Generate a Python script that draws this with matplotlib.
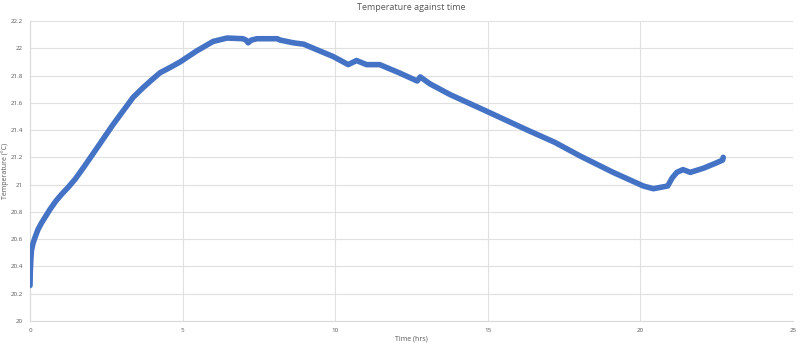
import numpy as np
import matplotlib.pyplot as plt

# readings taken off the chart (time in hours, temperature in degC)
time_hrs = [0.0, 0.01, 0.03, 0.05, 0.1, 0.16, 0.26, 0.38, 0.52, 0.66, 0.85, 1.04,
            1.25, 1.48, 1.8, 2.2, 2.72, 3.05, 3.38, 3.7, 4.0, 4.26, 4.6, 4.92,
            5.46, 6.0, 6.46, 6.98, 7.08, 7.15, 7.25, 7.44, 8.1, 8.2, 8.63, 8.97,
            9.5, 9.93, 10.43, 10.7, 11.03, 11.46, 12.1, 12.69, 12.79, 13.1, 13.77,
            14.85, 16.3, 17.2, 18.03, 19.11, 20.1, 20.43, 20.9, 21.05, 21.2, 21.4,
            21.64, 22.07, 22.5, 22.7, 22.72]
temp_c = [20.26, 20.36, 20.46, 20.52, 20.57, 20.61, 20.67, 20.72, 20.77, 20.82,
          20.88, 20.93, 20.98, 21.04, 21.14, 21.27, 21.44, 21.54, 21.64, 21.71,
          21.77, 21.82, 21.86, 21.90, 21.98, 22.05, 22.075, 22.07, 22.06, 22.04,
          22.06, 22.07, 22.07, 22.06, 22.04, 22.03, 21.98, 21.94, 21.88, 21.91,
          21.88, 21.88, 21.82, 21.76, 21.79, 21.74, 21.66, 21.55, 21.40, 21.31,
          21.21, 21.09, 20.99, 20.97, 20.99, 21.05, 21.09, 21.11, 21.09, 21.12,
          21.16, 21.18, 21.2]

x_ticks = [0, 5, 10, 15, 20, 25]
y_ticks = [20, 20.2, 20.4, 20.6, 20.8, 21, 21.2, 21.4, 21.6, 21.8, 22, 22.2]
y_labels = ['20', '20.2', '20.4', '20.6', '20.8', '21', '21.2', '21.4', '21.6',
            '21.8', '22', '22.2']

plt.rcParams['font.family'] = ['Open Sans', 'DejaVu Sans']
txt = '#595959'

fig = plt.figure(figsize=(8, 3.47), dpi=100)
ax = fig.add_axes([0.0375, 0.075, 0.9535, 0.8645])

ax.plot(time_hrs, temp_c, color='#4472C4', lw=4, solid_capstyle='round',
        solid_joinstyle='round', zorder=3)

ax.set_xlim(0, 25)
ax.set_ylim(20, 22.2)
ax.set_xticks(x_ticks)
ax.set_yticks(y_ticks)
ax.set_yticklabels(y_labels)
ax.tick_params(length=0, labelsize=4.5, colors=txt, pad=5)
ax.grid(True, color='#e0e0e0', lw=0.8)
ax.set_axisbelow(True)
for s in ['top', 'right']:
    ax.spines[s].set_visible(False)
for s in ['left', 'bottom']:
    ax.spines[s].set_color('#d9d9d9')

ax.set_title('Temperature against time', fontsize=6.5, color=txt, pad=8)
ax.set_xlabel('Time (hrs)', fontsize=5, color=txt, labelpad=2)
ax.set_ylabel('Temperature (°C)', fontsize=5, color=txt)
ax.yaxis.set_label_coords(-0.027, 0.5)

fig.savefig('out.png', dpi=100, facecolor='white')
